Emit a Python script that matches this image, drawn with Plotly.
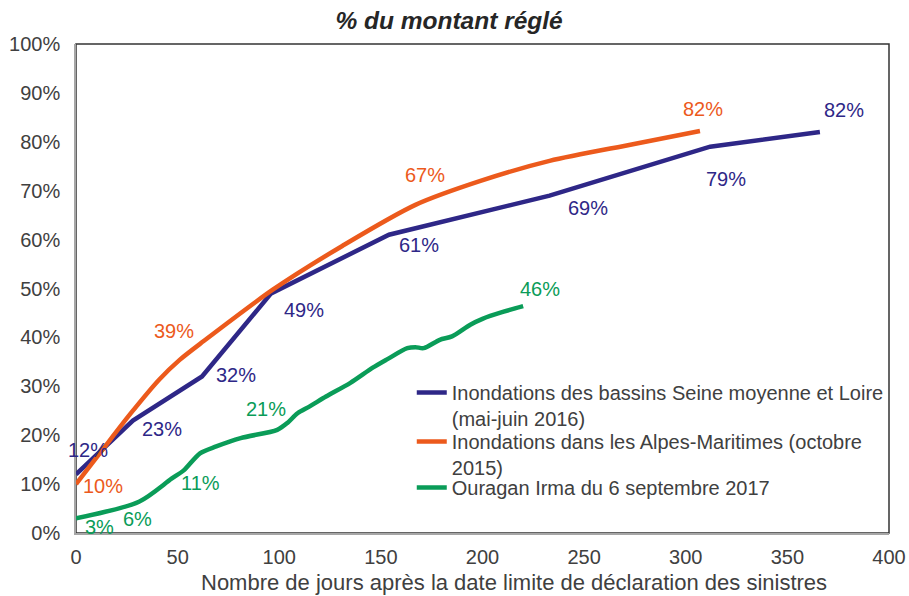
import plotly.graph_objects as go

# ---- data ----
blue_name = "Inondations des bassins Seine moyenne et Loire<br>(mai-juin 2016)"
blue_x = [0, 28, 62, 96, 154, 233, 312, 366]
blue_y = [12, 23, 32, 49, 61, 69, 79, 82]

orange_name = "Inondations dans les Alpes-Maritimes (octobre<br>2015)"
orange_x = [0, 13, 27, 41, 51, 63, 97, 131, 167, 199, 233, 274, 307]
orange_y = [10, 17, 24.5, 31.4, 35.4, 39.3, 49.8, 58.7, 67.1, 72, 76.1, 79.5, 82.2]
orange_lbl_idx = [0, 5, 8, 12]

green_name = "Ouragan Irma du 6 septembre 2017"
green_x = [0, 31, 47, 53, 61, 69, 81, 99, 104, 109, 115, 123, 135, 146, 153, 163, 167, 171, 179, 185, 194, 200, 210, 220]
green_y = [3, 6.4, 11.1, 12.8, 16.3, 17.7, 19.4, 21.1, 22.5, 24.5, 25.9, 27.9, 30.7, 33.8, 35.5, 37.8, 38, 37.8, 39.5, 40.2, 42.6, 43.8, 45.2, 46.4]
green_lbl_idx = [0, 1, 2, 7, 23]

x_ticks = [0, 50, 100, 150, 200, 250, 300, 350, 400]
y_ticks = [0, 10, 20, 30, 40, 50, 60, 70, 80, 90, 100]
y_ticktext = [f"{v}%" for v in y_ticks]

title_text = "% du montant réglé"
xaxis_title = "Nombre de jours après la date limite de déclaration des sinistres"

# ---- styles ----
FONT = "Liberation Sans, Arial, sans-serif"
C_BLUE = "#2E2787"
C_ORANGE = "#EC5A1C"
C_GREEN = "#0A9C58"
TXT = "#404040"

W, H = 909, 596

blue_shift = [(12, 24), (29, -8), (34, 2), (33, -17), (30, -10), (38, -12), (16, -32), (24, 22)]
orange_shift = [(27, -2), (-30, 10), (10, 30), (3, 22)]
green_shift = [(23, -9), (-2, -17), (29, -4), (-11, 21), (17, 17)]

fig = go.Figure()
fig.add_trace(go.Scatter(x=blue_x, y=blue_y, name=blue_name, mode="lines",
                         legend="legend",
                         line=dict(color=C_BLUE, width=4.5)))
fig.add_trace(go.Scatter(x=orange_x, y=orange_y, name=orange_name, mode="lines",
                         legend="legend2",
                         line=dict(color=C_ORANGE, width=4.5, shape="spline", smoothing=0.8)))
fig.add_trace(go.Scatter(x=green_x, y=green_y, name=green_name, mode="lines",
                         legend="legend3",
                         line=dict(color=C_GREEN, width=4.5, shape="spline", smoothing=0.8)))

annotations = []
def add_labels(xs, ys, idxs, shifts, color):
    for i, (dx, dy) in zip(idxs, shifts):
        annotations.append(dict(x=xs[i], y=ys[i], xref="x", yref="y",
                                text=f"{ys[i]:.0f}%", showarrow=False,
                                xshift=dx, yshift=dy,
                                font=dict(family=FONT, size=20, color=color)))

add_labels(blue_x, blue_y, list(range(len(blue_x))), blue_shift, C_BLUE)
add_labels(orange_x, orange_y, orange_lbl_idx, orange_shift, C_ORANGE)
add_labels(green_x, green_y, green_lbl_idx, green_shift, C_GREEN)

annotations.append(dict(x=0.539, y=-0.102, xref="paper", yref="paper",
                        text=xaxis_title, showarrow=False, yanchor="middle",
                        font=dict(family=FONT, size=22, color=TXT)))

def leg(y):
    return dict(x=0.413, y=y, xanchor="left", yanchor="top",
                bgcolor="rgba(0,0,0,0)", valign="top",
                font=dict(family=FONT, size=20, color=TXT))

fig.update_layout(
    width=W, height=H,
    margin=dict(l=76, r=20, t=44, b=63, autoexpand=False),
    paper_bgcolor="white", plot_bgcolor="white",
    font=dict(family=FONT, size=20, color=TXT),
    title=dict(text=f"<b><i>{title_text}</i></b>", x=0.494, xref="container",
               xanchor="center", y=1 - 20 / H, yanchor="middle",
               font=dict(family=FONT, size=24.5, color="#262626")),
    showlegend=True,
    legend=leg(0.327),
    legend2=leg(0.227),
    legend3=leg(0.133),
    annotations=annotations,
    shapes=[dict(type="rect", xref="paper", yref="paper", x0=0, y0=0, x1=1, y1=1,
                 line=dict(color="#333333", width=1.5), layer="below")],
)
fig.update_xaxes(range=[0, 400], tickvals=x_ticks, showgrid=False, zeroline=False,
                 showline=True, linecolor="#A6A6A6", linewidth=1.5, ticks="",
                 automargin=False,
                 ticklabelstandoff=5, tickfont=dict(family=FONT, size=20, color=TXT))
fig.update_yaxes(range=[0, 100], tickvals=y_ticks, ticktext=y_ticktext, showgrid=False,
                 zeroline=False, showline=True, linecolor="#A6A6A6", linewidth=1.5,
                 ticks="", ticklabelstandoff=10, automargin=False,
                 tickfont=dict(family=FONT, size=20, color=TXT))

fig.write_html("out.html",
               config={"displayModeBar": False},
               post_script="document.body.style.margin='0';"
                           "document.documentElement.style.overflow='hidden';")
